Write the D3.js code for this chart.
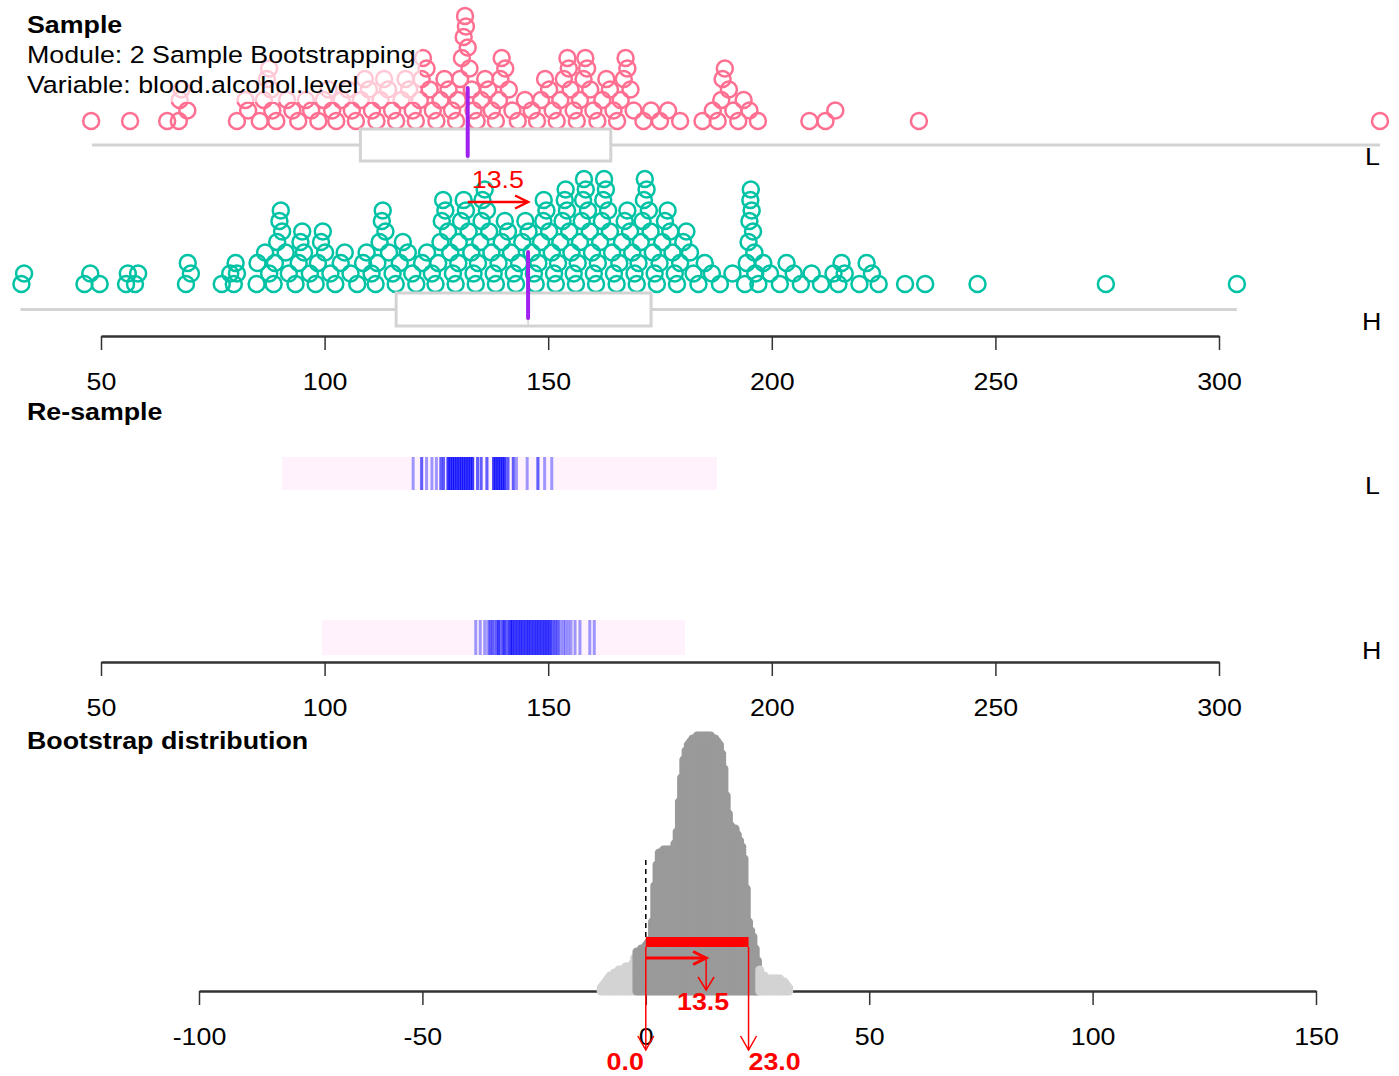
<!DOCTYPE html>
<html>
<head>
<meta charset="utf-8">
<script src="https://cdnjs.cloudflare.com/ajax/libs/d3/7.8.5/d3.min.js"></script>
<style>
body { margin: 0; background: #fff; }
svg { display: block; }
text { font-family: "Liberation Sans", Arial, sans-serif; }
</style>
</head>
<body>
<div class="container"></div>
<script>
// VIT style bootstrap display: sample / re-sample / bootstrap distribution

var groups = ["L", "H"];
var moduleName = "2 Sample Bootstrapping";
var variableName = "blood.alcohol.level";

// sample values
var lValues = [47.8, 56.5, 64.8, 67.4, 67.6, 68.0, 69.3, 80.4, 82.3, 82.9, 85.5, 86.4, 87.1, 87.6, 88.0, 88.3,
    89.2, 91.6, 92.8, 94.1, 95.8, 97.0, 98.6, 99.8, 100.9, 101.7, 102.6, 103.8, 105.2, 106.1, 107.0, 108.1,
    109.0, 109.9, 110.6, 111.6, 112.5, 113.3, 114.2, 115.1, 116.0, 117.2, 118.1, 118.9, 119.7, 120.4, 121.3,
    121.7, 122.0, 122.8, 123.5, 124.2, 125.0, 125.9, 126.8, 127.7, 128.5, 129.4, 129.8, 130.3, 130.7, 131.1,
    131.4, 131.6, 132.0, 132.4, 132.9, 133.3, 134.0, 135.0, 135.9, 136.6, 137.4, 138.3, 139.0, 139.3, 139.6,
    140.4, 141.2, 142.0, 143.2, 144.8, 146.3, 147.5, 148.4, 149.3, 150.2, 151.0, 151.9, 152.7, 153.5, 154.3,
    154.6, 155.0, 155.7, 156.4, 157.1, 157.9, 158.3, 158.7, 159.4, 160.1, 161.0, 162.1, 163.0, 163.8, 164.6,
    165.4, 166.2, 166.9, 167.3, 167.7, 168.4, 169.1, 171.3, 173.0, 175.0, 176.8, 179.5, 184.5, 186.8, 187.9,
    188.7, 189.0, 189.5, 190.4, 191.4, 192.5, 193.7, 195.0, 196.9, 208.4, 212.0, 214.2, 232.9, 336.0];

var hValues = [32.2, 32.8, 46.3, 47.6, 49.7, 55.6, 56.0, 57.6, 58.3, 69.0, 69.4, 70.1, 77.0, 78.9, 79.7, 80.1,
    80.4, 84.8, 85.0, 86.7, 87.6, 88.6, 88.9, 89.4, 89.9, 90.2, 90.5, 91.3, 92.0, 93.5, 94.2, 94.6, 95.0, 95.4,
    96.7, 98.0, 98.5, 99.2, 99.6, 100.1, 101.3, 102.4, 103.6, 104.5, 105.8, 107.3, 108.6, 109.4, 110.5, 111.4,
    111.8, 112.3, 112.8, 113.0, 113.6, 114.4, 115.2, 115.9, 116.8, 117.5, 118.6, 119.6, 120.5, 121.8, 122.9,
    124.0, 124.8, 125.4, 125.9, 126.2, 126.5, 127.0, 127.6, 128.1, 128.7, 129.3, 129.9, 130.0, 130.5, 131.1,
    131.6, 132.2, 132.8, 133.3, 133.8, 134.3, 134.8, 135.1, 135.3, 135.8, 136.3, 136.8, 137.3, 137.8, 138.3,
    138.9, 139.6, 140.3, 141.0, 141.7, 142.3, 142.8, 143.5, 144.2, 144.9, 145.6, 146.3, 146.8, 147.2, 147.8,
    148.4, 148.9, 149.0, 149.6, 150.2, 150.8, 151.3, 151.7, 152.2, 152.7, 153.2, 153.7, 153.9, 154.2, 154.7,
    155.2, 155.7, 156.2, 156.6, 157.1, 157.5, 157.8, 158.0, 158.4, 158.9, 159.3, 159.8, 160.2, 160.7, 161.1,
    161.6, 162.0, 162.3, 162.5, 162.9, 163.4, 163.8, 164.3, 164.7, 165.3, 165.9, 166.5, 167.1, 167.7, 168.3,
    168.8, 169.3, 169.8, 170.2, 170.7, 171.1, 171.4, 171.6, 172.0, 172.5, 172.9, 173.4, 173.8, 174.3, 174.9,
    175.5, 176.1, 176.7, 177.3, 177.8, 178.3, 178.8, 179.5, 180.2, 180.9, 181.7, 182.5, 183.6, 185.0, 186.6,
    188.4, 191.2, 194.0, 194.4, 194.8, 195.0, 195.2, 195.3, 195.5, 195.8, 196.1, 196.3, 197.0, 198.1, 199.6,
    201.8, 203.3, 204.9, 206.5, 208.9, 211.0, 213.8, 214.9, 215.6, 216.3, 219.6, 221.2, 222.4, 223.9, 229.8,
    234.3, 246.0, 274.7, 304.0];

// boxplot summaries [min, q1, median, q3, max]
var lBox = [48, 108, 132, 164, 336];
var hBox = [32, 116, 145.5, 173, 304];

// re-sample panel: spread of the resamples and the resample medians
var lBand = [90.5, 187.7];
var hBand = [99.4, 180.6];
var lResampleMedians = [119.8, 121.7, 121.7, 122.8, 124.0, 125.0, 126.0, 126.0, 126.6, 126.6, 127.6, 127.6,
    127.6, 128.1, 128.1, 128.1, 128.6, 128.6, 128.6, 129.1, 129.1, 129.1, 129.6, 129.6, 129.6, 130.1, 130.1,
    130.1, 130.6, 130.6, 130.6, 131.1, 131.1, 131.1, 131.6, 131.6, 131.6, 132.1, 132.1, 132.1, 132.6, 132.6,
    132.6, 133.1, 133.1, 133.1, 134.2, 134.2, 135.0, 135.0, 136.3, 136.3, 137.8, 137.8, 137.8, 138.3, 138.3,
    138.3, 138.8, 138.8, 138.8, 139.3, 139.3, 139.3, 139.8, 139.8, 139.8, 140.3, 140.3, 140.3, 141.0, 141.0,
    142.2, 142.2, 142.9, 145.3, 147.7, 147.7, 149.2, 150.8];
var hResampleMedians = [133.8, 134.8, 135.8, 136.5, 137.0, 137.0, 137.6, 137.6, 138.3, 138.3, 138.9, 138.9,
    138.9, 139.6, 139.6, 140.2, 140.2, 140.2, 140.9, 140.9, 141.5, 141.5, 141.5, 142.0, 142.0, 142.0, 142.6,
    142.6, 142.6, 143.2, 143.2, 143.2, 143.8, 143.8, 143.8, 144.4, 144.4, 144.4, 145.0, 145.0, 145.0, 145.6,
    145.6, 145.6, 146.2, 146.2, 146.2, 146.8, 146.8, 146.8, 147.4, 147.4, 147.4, 148.0, 148.0, 148.0, 148.6,
    148.6, 148.6, 149.2, 149.2, 149.2, 149.8, 149.8, 149.8, 150.4, 150.4, 150.4, 151.0, 151.0, 151.6, 151.6,
    152.2, 152.2, 152.8, 153.4, 153.9, 154.5, 155.1, 156.0, 157.1, 159.3, 160.3];

// bootstrap distribution of the difference, dots per half-unit bin
var bootBins = [-10, -9.5, -9, -8.5, -8, -7.5, -7, -6.5, -6, -5.5, -5, -4.5, -4, -3.5, -3, -2.5, -2, -1.5, -1,
    -0.5, 0, 0.5, 1, 1.5, 2, 2.5, 3, 3.5, 4, 4.5, 5, 5.5, 6, 6.5, 7, 7.5, 8, 8.5, 9, 9.5, 10, 10.5, 11, 11.5,
    12, 12.5, 13, 13.5, 14, 14.5, 15, 15.5, 16, 16.5, 17, 17.5, 18, 18.5, 19, 19.5, 20, 20.5, 21, 21.5, 22,
    22.5, 23, 23.5, 24, 24.5, 25, 25.5, 26, 26.5, 27, 27.5, 28, 28.5, 29, 29.5, 30, 30.5, 31, 31.5, 32];
var bootCounts = [2, 3, 4, 5, 6, 6, 7, 7, 8, 8, 8, 9, 9, 9, 10, 12, 14, 14, 15, 15, 16, 17, 18, 24, 36, 43, 47,
    47, 48, 48, 48, 48, 48, 50, 54, 64, 72, 78, 81, 83, 84, 85, 85, 86, 86, 86, 86, 86, 86, 86, 85, 85, 84, 83,
    80, 75, 66, 60, 56, 55, 55, 53, 51, 49, 45, 35, 24, 21, 19, 15, 11, 8, 6, 6, 5, 5, 5, 5, 5, 5, 5, 4, 4, 3, 2];
var diffStat = 13.5;
var ciBounds = [0.0, 23.0];

var sampleTicks = [50, 100, 150, 200, 250, 300];
var bootTicks = [-100, -50, 0, 50, 100, 150];

var width = 1399;
var height = 1076;
var fs = 23.3;
var stretch = 1.15;
var pink = "#ff6f91";
var teal = "#00c2a4";
var purple = "#a020f0";
var boxGrey = "#d3d3d3";

var svg = d3.select(".container").append("svg")
    .attr("width", width)
    .attr("height", height);

var x = d3.scaleLinear().domain([50, 300]).range([101, 1219]);
var xb = d3.scaleLinear().domain([-100, 150]).range([199, 1316]);

function label(g, px, py, s, o)
{
    o = o || {};
    return g.append("text")
        .attr("transform", "translate(" + px + "," + py + ") scale(" + stretch + ",1)")
        .attr("text-anchor", o.anchor || "start")
        .style("font-size", (o.size || fs) + "px")
        .style("font-weight", o.bold ? "bold" : "normal")
        .style("fill", o.fill || "#000")
        .text(s);
}

function arrow(g, x1, y1, x2, y2, col, w, len, half)
{
    g.append("line")
        .attr("x1", x1).attr("y1", y1).attr("x2", x2).attr("y2", y2)
        .attr("stroke", col).attr("stroke-width", w);
    var a = Math.atan2(y2 - y1, x2 - x1);
    var bx = x2 - len * Math.cos(a), by = y2 - len * Math.sin(a);
    g.append("path")
        .attr("d", "M" + (bx + half * Math.sin(a)) + "," + (by - half * Math.cos(a)) +
            "L" + x2 + "," + y2 +
            "L" + (bx - half * Math.sin(a)) + "," + (by + half * Math.cos(a)))
        .attr("fill", "none").attr("stroke", col).attr("stroke-width", w);
}

function drawAxis(yPos, scale, ticks)
{
    var g = svg.append("g")
        .attr("transform", "translate(0," + yPos + ")")
        .call(d3.axisBottom(scale).tickValues(ticks).tickSize(14).tickSizeOuter(0).tickPadding(23)
            .tickFormat(function(d) { return String(d); }));
    g.attr("font-size", fs).attr("font-family", "Liberation Sans, Arial, sans-serif");
    g.select(".domain").attr("stroke", "#333").attr("stroke-width", 2.5);
    g.selectAll(".tick line").attr("stroke", "#333").attr("stroke-width", 1.5);
    g.selectAll(".tick text").attr("fill", "#000").attr("transform", "scale(" + stretch + ",1)");
}

// stack values into bins; inside a bin take low/high alternately so stacks weave
function stackDots(values)
{
    var bins = d3.group(values, function(v) { return Math.floor((v - 30) / 4.5); });
    var out = [];
    bins.forEach(function(vs)
    {
        vs = vs.slice().sort(d3.ascending);
        var lo = 0, hi = vs.length - 1, k = 0;
        while (lo <= hi)
        {
            out.push({v: vs[lo++], level: k++});
            if (lo <= hi) out.push({v: vs[hi--], level: k++});
        }
    });
    return out;
}

function dots(values, base, col)
{
    svg.append("g").selectAll("circle")
        .data(stackDots(values))
        .enter().append("circle")
        .attr("cx", function(d) { return x(d.v); })
        .attr("cy", function(d) { return base - d.level * 10.5; })
        .attr("r", 8)
        .attr("fill", "none")
        .attr("stroke", col)
        .attr("stroke-width", 2.5);
}

function boxplot(b, y0, y1)
{
    var g = svg.append("g").attr("stroke", boxGrey).attr("stroke-width", 3).attr("fill", "none");
    var ym = (y0 + y1) / 2;
    g.append("line").attr("x1", x(b[0])).attr("x2", x(b[1])).attr("y1", ym).attr("y2", ym);
    g.append("line").attr("x1", x(b[3])).attr("x2", x(b[4])).attr("y1", ym).attr("y2", ym);
    g.append("rect").attr("x", x(b[1])).attr("y", y0).attr("width", x(b[3]) - x(b[1])).attr("height", y1 - y0)
        .attr("fill", "#fff");
    g.append("line").attr("x1", x(b[2])).attr("x2", x(b[2])).attr("y1", y0).attr("y2", y1)
        .attr("stroke-width", 1.5);
}

// ---- Sample panel
dots(lValues, 121, pink);

svg.append("rect").attr("x", 20).attr("y", 4).attr("width", 400).attr("height", 98)
    .attr("fill", "#fff").attr("opacity", 0.62);

label(svg, 27, 33, "Sample", {bold: true});
label(svg, 27, 63, "Module: " + moduleName);
label(svg, 27, 93, "Variable: " + variableName);

boxplot(lBox, 129, 161);
svg.append("line").attr("x1", x(lBox[2])).attr("x2", x(lBox[2])).attr("y1", 88).attr("y2", 156)
    .attr("stroke", purple).attr("stroke-width", 4).attr("stroke-linecap", "round");

dots(hValues, 284, teal);
boxplot(hBox, 293, 326);
svg.append("line").attr("x1", x(hBox[2])).attr("x2", x(hBox[2])).attr("y1", 252).attr("y2", 318)
    .attr("stroke", purple).attr("stroke-width", 4).attr("stroke-linecap", "round");

arrow(svg, x(lBox[2]), 202, x(hBox[2]), 202, "#ff0000", 2.5, 13, 6.5);
label(svg, (x(lBox[2]) + x(hBox[2])) / 2, 188, d3.format(".1f")(diffStat), {anchor: "middle", fill: "#ff0000"});

label(svg, 1365, 165, groups[0]);
label(svg, 1362, 330, groups[1]);
drawAxis(336, x, sampleTicks);

// ---- Re-sample panel
label(svg, 27, 420, "Re-sample", {bold: true});

function resampleRow(band, meds, y0, y1)
{
    var g = svg.append("g");
    g.append("rect").attr("x", x(band[0])).attr("y", y0)
        .attr("width", x(band[1]) - x(band[0])).attr("height", y1 - y0)
        .attr("fill", "#fff2fd");
    g.selectAll("line").data(meds).enter().append("line")
        .attr("x1", function(d) { return x(d); })
        .attr("x2", function(d) { return x(d); })
        .attr("y1", y0).attr("y2", y1)
        .attr("stroke", "#0000ff").attr("stroke-width", 3).attr("stroke-opacity", 0.38);
}
resampleRow(lBand, lResampleMedians, 457, 490);
resampleRow(hBand, hResampleMedians, 620, 655);

label(svg, 1365, 494, groups[0]);
label(svg, 1362, 659, groups[1]);
drawAxis(662, x, sampleTicks);

// ---- Bootstrap distribution panel
label(svg, 27, 749, "Bootstrap distribution", {bold: true});
drawAxis(991, xb, bootTicks);

var bootDots = [];
bootBins.forEach(function(v, i)
{
    for (var k = 0; k < bootCounts[i]; k++) bootDots.push({v: v, level: k});
});
svg.append("g").selectAll("circle")
    .data(bootDots)
    .enter().append("circle")
    .attr("cx", function(d) { return xb(d.v); })
    .attr("cy", function(d) { return 991 - d.level * 3; })
    .attr("r", 4.5)
    .attr("fill", function(d) { return (d.v >= -2 && d.v <= 25) ? "#9a9a9a" : "#d3d3d3"; });

svg.append("line").attr("x1", xb(0)).attr("x2", xb(0)).attr("y1", 860).attr("y2", 937)
    .attr("stroke", "#000").attr("stroke-width", 1.5).attr("stroke-dasharray", "5,4");

var red = "#ff0000";
var rg = svg.append("g");
rg.append("rect").attr("x", xb(ciBounds[0])).attr("y", 937)
    .attr("width", xb(ciBounds[1]) - xb(ciBounds[0])).attr("height", 10).attr("fill", red);
arrow(rg, xb(ciBounds[0]), 947, xb(ciBounds[0]), 1050, red, 1.5, 14, 8);
arrow(rg, xb(ciBounds[1]), 947, xb(ciBounds[1]), 1050, red, 1.5, 14, 8);
arrow(rg, xb(ciBounds[0]), 958, xb(diffStat), 958, red, 3, 13, 6.5);
arrow(rg, xb(diffStat), 958, xb(diffStat), 990, red, 1.5, 13, 8);
label(rg, xb(diffStat) - 3, 1010, d3.format(".1f")(diffStat), {anchor: "middle", fill: red, bold: true});
label(rg, xb(ciBounds[0]) - 2, 1070, d3.format(".1f")(ciBounds[0]), {anchor: "end", fill: red, bold: true});
label(rg, xb(ciBounds[1]), 1070, d3.format(".1f")(ciBounds[1]), {anchor: "start", fill: red, bold: true});
</script>
</body>
</html>
